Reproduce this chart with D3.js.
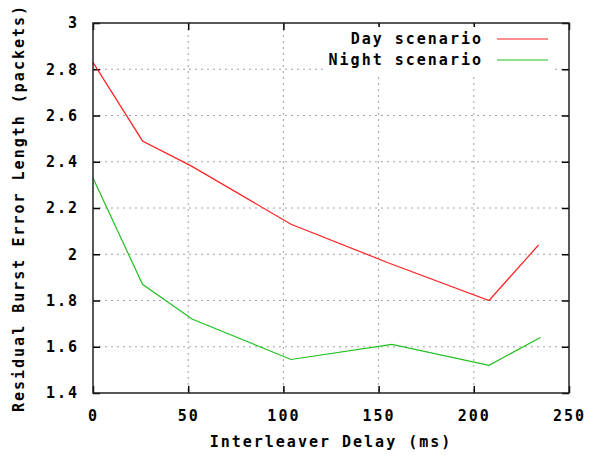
<!DOCTYPE html>
<html>
<head>
<meta charset="utf-8">
<script src="https://cdn.jsdelivr.net/npm/d3@7"></script>
<style>
body { margin: 0; background: #fff; }
text { font-family: "DejaVu Sans Mono", monospace; font-weight: bold; font-size: 15px; letter-spacing: 2px; fill: #000; }
</style>
</head>
<body>
<div id="chart"></div>
<script>
var margin = {top: 23, right: 23, bottom: 63, left: 93},
    width = 592 - margin.left - margin.right,
    height = 456 - margin.top - margin.bottom;

var delays = [0, 26, 52, 104, 156, 208, 234];
var dayValues = [2.83, 2.49, 2.38, 2.13, 1.96, 1.80, 2.04];
var nightDelays = [0, 26, 52, 104, 157, 208, 235];
var nightValues = [2.33, 1.87, 1.72, 1.545, 1.61, 1.52, 1.64];
var xTicks = [0, 50, 100, 150, 200, 250];
var yTicks = [1.4, 1.6, 1.8, 2, 2.2, 2.4, 2.6, 2.8, 3];

var series = [
  {name: "Day scenario", color: "#ff2020", xs: delays, ys: dayValues},
  {name: "Night scenario", color: "#20c020", xs: nightDelays, ys: nightValues}
];

var x = d3.scaleLinear().domain([0, 250]).range([0, width]);
var y = d3.scaleLinear().domain([1.4, 3]).range([height, 0]);

var svg = d3.select("#chart").append("svg")
    .attr("width", 592)
    .attr("height", 456)
  .append("g")
    .attr("transform", "translate(" + margin.left + "," + margin.top + ")");

// grid
svg.selectAll(".vgrid")
  .data(xTicks.slice(1, -1))
  .enter().append("line")
    .attr("x1", d => x(d)).attr("x2", d => x(d))
    .attr("y1", 0).attr("y2", height)
    .attr("stroke", "#a0a0a0")
    .attr("stroke-dasharray", "2,4");

svg.selectAll(".hgrid")
  .data(yTicks.slice(1, -1))
  .enter().append("line")
    .attr("y1", d => y(d)).attr("y2", d => y(d))
    .attr("x1", 0).attr("x2", width)
    .attr("stroke", "#a0a0a0")
    .attr("stroke-dasharray", "2,4");

// axes (ticks inside, mirrored)
var fmt = d3.format("");
svg.append("g")
    .attr("transform", "translate(0," + height + ")")
    .call(d3.axisBottom(x).tickValues(xTicks).tickSizeInner(-7).tickSizeOuter(0).tickPadding(17).tickFormat(fmt))
    .call(g => g.select(".domain").remove());
svg.append("g")
    .call(d3.axisTop(x).tickValues(xTicks).tickSizeInner(-7).tickSizeOuter(0).tickFormat(""))
    .call(g => g.select(".domain").remove());
svg.append("g")
    .call(d3.axisLeft(y).tickValues(yTicks).tickSizeInner(-7).tickSizeOuter(0).tickPadding(14).tickFormat(fmt))
    .call(g => g.select(".domain").remove());
svg.append("g")
    .attr("transform", "translate(" + width + ",0)")
    .call(d3.axisRight(y).tickValues(yTicks).tickSizeInner(-7).tickSizeOuter(0).tickFormat(""))
    .call(g => g.select(".domain").remove());

svg.selectAll(".tick line").attr("stroke", "#000").attr("stroke-width", 1.5);
svg.selectAll(".tick text").style("font-size", "15px").style("font-family", "DejaVu Sans Mono").style("font-weight", "bold");

// legend background
svg.append("rect")
    .attr("x", 232).attr("y", 4)
    .attr("width", 228).attr("height", 46)
    .attr("fill", "#fff");

// lines
var line = d3.line()
    .x(d => x(d[0]))
    .y(d => y(d[1]));

series.forEach(function(s) {
  svg.append("path")
      .datum(s.xs.map((v, i) => [v, s.ys[i]]))
      .attr("fill", "none")
      .attr("stroke", s.color)
      .attr("stroke-width", 1.2)
      .attr("d", line);
});

// border
svg.append("rect")
    .attr("width", width).attr("height", height)
    .attr("fill", "none")
    .attr("stroke", "#222")
    .attr("stroke-width", 1.5);

// legend
series.forEach(function(s, i) {
  svg.append("text")
      .attr("x", 390)
      .attr("y", 16 + i * 21)
      .attr("dy", "0.35em")
      .style("text-anchor", "end")
      .text(s.name);
  svg.append("line")
      .attr("x1", 404).attr("x2", 455)
      .attr("y1", 16 + i * 21).attr("y2", 16 + i * 21)
      .attr("stroke", s.color)
      .attr("stroke-width", 1.2);
});

// axis titles
svg.append("text")
    .attr("x", width / 2)
    .attr("y", height + 54)
    .style("text-anchor", "middle")
    .text("Interleaver Delay (ms)");

svg.append("text")
    .attr("transform", "rotate(-90)")
    .attr("x", -height / 2)
    .attr("y", -margin.left + 24)
    .style("text-anchor", "middle")
    .text("Residual Burst Error Length (packets)");
</script>
</body>
</html>
